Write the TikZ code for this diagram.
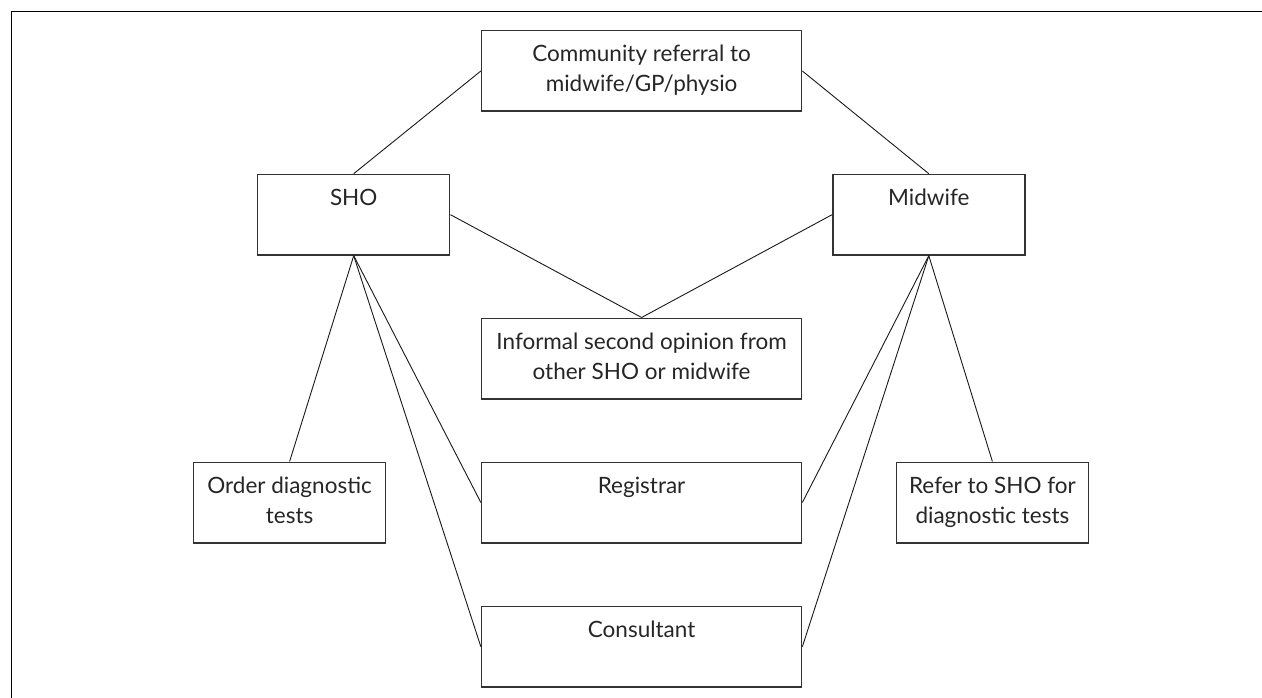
\documentclass[tikz,border=0pt]{standalone}
\usepackage{fontspec}
\setmainfont{Lato}
\begin{document}
\begin{tikzpicture}[x=1pt,y=-1pt,
  box/.style={draw=black!80, line width=1.5pt, rectangle, minimum height=80.5pt,
    inner sep=0pt, align=center, text=black!85,
    font=\fontsize{22.5}{30}\selectfont},
  smallbox/.style={box, minimum width=192pt},
  widebox/.style={box, minimum width=320pt},
  link/.style={line width=0.9pt, black!90}]
\useasboundingbox (0,0) rectangle (1262,698);
\draw[line width=1.8pt] (1262,11.5) -- (11.4,11.5) -- (11.4,698);
\node[widebox] (comm) at (641.6,71) {\strut Community referral to\\\strut midwife/GP/physio};
\node[smallbox] (sho) at (353.7,214.7) {\strut SHO\\\strut};
\node[smallbox] (mid) at (928.8,214.7) {\strut Midwife\\\strut};
\node[widebox] (inf) at (641.6,358.5) {\strut Informal second opinion from\\\strut other SHO or midwife};
\node[smallbox] (ord) at (289.6,502.5) {\strut Order diagnostic\\\strut tests};
\node[widebox] (reg) at (641.6,502.5) {\strut Registrar\\\strut};
\node[smallbox] (ref) at (992.4,502.5) {\strut Refer to SHO for\\\strut diagnostic tests};
\node[widebox] (con) at (641.6,646.7) {\strut Consultant\\\strut};
\draw[link] (sho.north) -- (comm.west);
\draw[link] (comm.east) -- (mid.north);
\draw[link] (sho.east) -- (inf.north);
\draw[link] (mid.west) -- (inf.north);
\draw[link] (sho.south) -- (ord.north);
\draw[link] (sho.south) -- (reg.west);
\draw[link] (sho.south) -- (con.west);
\draw[link] (mid.south) -- (reg.east);
\draw[link] (mid.south) -- (con.east);
\draw[link] (mid.south) -- (ref.north);
\end{tikzpicture}
\end{document}
